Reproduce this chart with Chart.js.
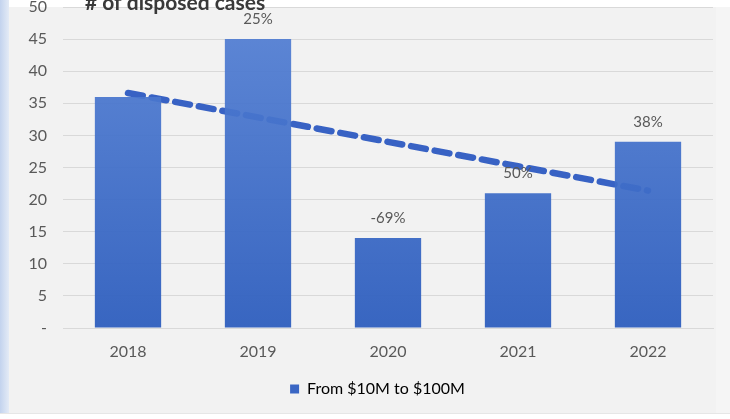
<!DOCTYPE html>
<html>
<head>
<meta charset="utf-8">
<script src="https://cdn.jsdelivr.net/npm/chart.js@4"></script>
<style>
  html, body { margin: 0; padding: 0; background: #fff; }
  #wrap { position: absolute; left: 0; top: 0; width: 730px; height: 419px; }
</style>
</head>
<body>
<div id="wrap"><canvas id="myChart_cases"></canvas></div>
<script>
// 年份 / 案件數 / 成長率
var years = ['2018', '2019', '2020', '2021', '2022'];
var cases = [36, 45, 14, 21, 29];
var growth = ['', '25%', '-69%', '50%', '38%'];
var yTicks = [0, 5, 10, 15, 20, 25, 30, 35, 40, 45, 50];
var seriesName = 'From $10M to $100M';
var chartTitle = '# of disposed cases';

var FONT = 'Lato, "Liberation Sans", sans-serif';

// 線性趨勢線 (Excel trendline)
function linearTrend(arr){
    var n = arr.length, sx = 0, sy = 0, sxy = 0, sxx = 0;
    for (var i = 0; i < n; i++){ sx += i; sy += arr[i]; sxy += i * arr[i]; sxx += i * i; }
    var b = (n * sxy - sx * sy) / (n * sxx - sx * sx);
    var a = (sy - b * sx) / n;
    return arr.map(function(v, i){ return a + b * i; });
}

var bgPlugin = {
    id: 'bg',
    afterLayout: function(chart){
        // 圖例稍微往右
        if (chart.legend){ chart.legend.left += 9; chart.legend.right += 9; }
    },
    beforeDraw: function(chart){
        var c = chart.ctx, w = chart.width, h = chart.height;
        c.save();
        c.fillStyle = '#ffffff';
        c.fillRect(0, 0, w, h);
        c.fillStyle = '#f2f2f2';
        c.fillRect(0, 7, w, 406);
        c.fillStyle = '#f5f5f5';
        c.fillRect(716, 7, w - 716, 406);
        var g = c.createLinearGradient(0, 0, 9, 0);
        g.addColorStop(0, '#c3d3ee');
        g.addColorStop(1, '#e4ebf6');
        c.fillStyle = g;
        c.fillRect(0, 0, 9, 413);
        c.fillStyle = '#e6e6e6';
        c.fillRect(0, 413, w, 1);
        c.restore();
    },
    afterDraw: function(chart){
        var c = chart.ctx;
        c.save();
        // 標題
        c.fillStyle = '#3a3a3a';
        c.font = 'bold 21px ' + FONT;
        c.textBaseline = 'alphabetic';
        c.textAlign = 'left';
        c.fillText(chartTitle, 85, 10);
        // 數據標籤
        var meta = chart.getDatasetMeta(1);
        c.fillStyle = '#595959';
        c.font = '15px ' + FONT;
        c.textAlign = 'center';
        c.textBaseline = 'middle';
        meta.data.forEach(function(bar, i){
            if (growth[i]) c.fillText(growth[i], bar.x, bar.y - 20);
        });
        c.restore();
    }
};

var ctx = document.getElementById('myChart_cases');
var myChart = new Chart(ctx, {
    type: 'bar',
    data: {
        labels: years,
        datasets: [{
            type: 'line',
            label: 'trend',
            data: linearTrend(cases),
            borderColor: 'rgba(56,98,196,1)',
            borderWidth: 6.5,
            borderDash: [15, 9],
            borderCapStyle: 'round',
            pointRadius: 0,
            fill: false,
            order: 2
        }, {
            label: seriesName,
            data: cases,
            backgroundColor: function(context){
                var chart = context.chart, area = chart.chartArea;
                if (!area) return '#4472c4';
                var g = chart.ctx.createLinearGradient(0, area.top, 0, area.bottom);
                g.addColorStop(0, 'rgba(84,128,212,0.93)');
                g.addColorStop(1, 'rgba(46,94,190,0.95)');
                return g;
            },
            barPercentage: 0.51,
            categoryPercentage: 1,
            order: 1
        }]
    },
    options: {
        responsive: true,
        maintainAspectRatio: false,
        animation: false,
        layout: { padding: { top: 7, right: 17, left: 24, bottom: 12 } },
        plugins: {
            tooltip: { enabled: false },
            legend: {
                position: 'bottom',
                labels: {
                    boxWidth: 9,
                    boxHeight: 9,
                    color: '#595959',
                    font: { family: FONT, size: 16 },
                    padding: 10,
                    generateLabels: function(chart){
                        return [{ text: seriesName, fillStyle: '#3a66c4', strokeStyle: '#3a66c4', lineWidth: 0, datasetIndex: 1 }];
                    }
                }
            }
        },
        scales: {
            x: {
                grid: { display: false, drawTicks: false },
                border: { color: '#d9d9d9' },
                ticks: { color: '#595959', padding: 14, font: { family: FONT, size: 16 } },
                afterFit: function(scale){ scale.height = 43; }
            },
            y: {
                min: 0,
                max: 50,
                afterBuildTicks: function(scale){ scale.ticks = yTicks.map(function(v){ return { value: v }; }); },
                grid: { color: '#d9d9d9', drawTicks: false },
                border: { display: false },
                ticks: {
                    color: '#595959',
                    padding: 16,
                    font: { family: FONT, size: 16 },
                    callback: function(v){ return v === 0 ? '-' : v; }
                },
                afterFit: function(scale){ scale.width = 39; scale.paddingTop = 0; }
            }
        }
    },
    plugins: [bgPlugin]
});
</script>
</body>
</html>
